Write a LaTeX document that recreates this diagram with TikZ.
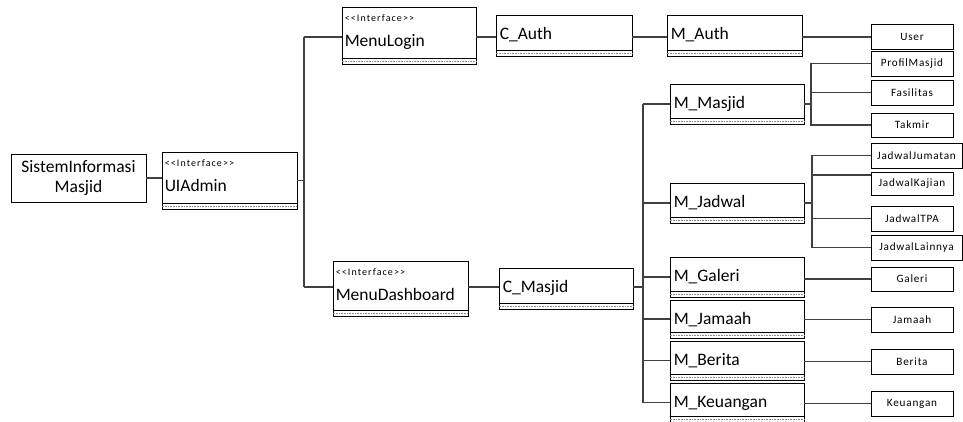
\documentclass[tikz,border=0pt]{standalone}
\usepackage{fontspec}
\setmainfont{Carlito}
\newfontfamily\smallfam{Carlito}[LetterSpace=7]
\newfontfamily\ifacefam{Carlito}[LetterSpace=11]
\newcommand\clsbox[6]{%
  \node[box,minimum width=#4pt,minimum height=#5pt] (#1) at (#2,#3) {};
  \draw[line width=0.8pt] ([yshift=6.5pt]#1.south west) -- ([yshift=6.5pt]#1.south east);
  \draw[black!45,line width=0.6pt,dash pattern=on 1pt off 0.6pt] ([yshift=3pt]#1.south west) -- ([yshift=3pt]#1.south east);
  \node[big,anchor=base west] (#1-t) at ([xshift=4pt,yshift=-25pt]#1.north west) {#6};
}
\newcommand\ifbox[6]{%
  \node[box,minimum width=#4pt,minimum height=#5pt] (#1) at (#2,#3) {};
  \draw[line width=0.8pt] ([yshift=6.5pt]#1.south west) -- ([yshift=6.5pt]#1.south east);
  \draw[black!45,line width=0.6pt,dash pattern=on 1pt off 0.6pt] ([yshift=3pt]#1.south west) -- ([yshift=3pt]#1.south east);
  \node[iface,anchor=base west] (#1-i) at ([xshift=3pt,yshift=-15pt]#1.north west) {<{}<Interface>{}>};
  \node[big,anchor=base west] (#1-t) at ([xshift=3pt,yshift=-40pt]#1.north west) {#6};
}
\begin{document}
\begin{tikzpicture}[x=1pt,y=-1pt,
  box/.style={draw=black,line width=0.9pt,rectangle,inner sep=0pt,fill=white},
  conn/.style={draw=black!75,line width=1.2pt},
  big/.style={font=\fontsize{17.5}{20}\selectfont,inner sep=0pt},
  lbl/.style={font=\smallfam\fontsize{11.2}{13}\selectfont},
  iface/.style={font=\ifacefam\fontsize{10}{12}\selectfont,inner sep=0pt}]
\useasboundingbox[fill=white] (0,0) rectangle (963,421);
\begin{scope}
\clip (0,0) rectangle (963,421);
% left part
\node[box,big,minimum width=135pt,minimum height=48pt,align=center] (sim) at (78.5,178) {SistemInformasi\\Masjid};
\ifbox{ui}{229.5}{180.5}{135}{57}{UIAdmin}
\ifbox{login}{409}{35.5}{134}{57}{MenuLogin}
\ifbox{dash}{400.5}{288.5}{135}{55}{MenuDashboard}
\clsbox{cauth}{564}{35.5}{136}{41}{C\_Auth}
\clsbox{cmas}{566}{288.5}{134}{41}{C\_Masjid}
\clsbox{mauth}{734.5}{35.5}{135}{41}{M\_Auth}
\clsbox{mmas}{737}{104}{134}{40}{M\_Masjid}
\clsbox{mjad}{737}{203}{134}{40}{M\_Jadwal}
\clsbox{mgal}{737}{277}{134}{40}{M\_Galeri}
\clsbox{mjam}{737}{319}{134}{38}{M\_Jamaah}
\clsbox{mber}{737}{360.5}{134}{39}{M\_Berita}
\clsbox{mkeu}{737}{402.5}{134}{39}{M\_Keuangan}
% leaf boxes
\node[box,lbl,minimum width=82pt,minimum height=25pt] (user) at (912,36.5) {User};
\node[box,lbl,minimum width=82pt,minimum height=25pt] (prof) at (912,63.5) {ProfilMasjid};
\node[box,lbl,minimum width=82pt,minimum height=25pt] (fas) at (912,92.5) {Fasilitas};
\node[box,lbl,minimum width=82pt,minimum height=24pt] (takmir) at (912,125) {Takmir};
\node[box,lbl,minimum width=91pt,minimum height=25pt] (jum) at (916.5,155.5) {JadwalJumatan};
\node[box,lbl,minimum width=82pt,minimum height=23pt] (kaj) at (912,183.5) {JadwalKajian};
\node[box,lbl,minimum width=82pt,minimum height=25pt] (tpa) at (912,218.5) {JadwalTPA};
\node[box,lbl,minimum width=91pt,minimum height=25pt] (lain) at (916.5,247.5) {JadwalLainnya};
\node[box,lbl,minimum width=82pt,minimum height=24pt] (gal) at (912,279) {Galeri};
\node[box,lbl,minimum width=82pt,minimum height=25pt] (jam) at (912,319.5) {Jamaah};
\node[box,lbl,minimum width=82pt,minimum height=25pt] (ber) at (912,361.5) {Berita};
\node[box,lbl,minimum width=82pt,minimum height=25pt] (keu) at (912,403.5) {Keuangan};
% connectors
\coordinate (b1t) at (304,37);
\coordinate (b1b) at (304,287);
\draw[conn] (sim.east) -- (sim.east -| ui.west);
\draw[conn] (ui.east) -- (ui.east -| b1t);
\draw[conn] (b1t) -- (b1b);
\draw[conn] (b1t) -- (b1t -| login.west);
\draw[conn] (b1b) -- (b1b -| dash.west);
\draw[conn] (login.east |- b1t) -- (b1t -| cauth.west);
\draw[conn] (cauth.east |- b1t) -- (b1t -| mauth.west);
\draw[conn] (mauth.east |- b1t) -- (b1t -| user.west);
\draw[conn] (dash.east |- b1b) -- (b1b -| cmas.west);
\coordinate (b2t) at (643,104);
\draw[conn] (b2t) -- (mkeu.west -| b2t);
\draw[conn] (cmas.east |- b1b) -- (b1b -| b2t);
\draw[conn] (b2t) -- (mmas.west);
\draw[conn] (mjad.west -| b2t) -- (mjad.west);
\draw[conn] (mgal.west -| b2t) -- (mgal.west);
\draw[conn] (mjam.west -| b2t) -- (mjam.west);
\draw[conn] (mber.west -| b2t) -- (mber.west);
\draw[conn] (mkeu.west -| b2t) -- (mkeu.west);
% M_Masjid bracket
\coordinate (r1) at (811,104);
\draw[conn] (mmas.east) -- (r1);
\draw[conn] (prof.west) -| (r1) |- (takmir.west);
\draw[conn] (r1 |- fas.west) -- (fas.west);
% M_Jadwal bracket
\coordinate (r2) at (812,203);
\coordinate (kj) at ([yshift=8.5pt]kaj.west);
\draw[conn] (mjad.east) -- (r2);
\draw[conn] (jum.west) -| (r2) |- (lain.west);
\draw[conn] (r2 |- kj) -- (kj);
\draw[conn] (r2 |- tpa.west) -- (tpa.west);
% simple links
\draw[conn] (mgal.east |- gal.west) -- (gal.west);
\draw[conn] (mjam.east |- jam.west) -- (jam.west);
\draw[conn] (mber.east |- ber.west) -- (ber.west);
\draw[conn] (mkeu.east |- keu.west) -- (keu.west);
\end{scope}
\end{tikzpicture}
\end{document}
